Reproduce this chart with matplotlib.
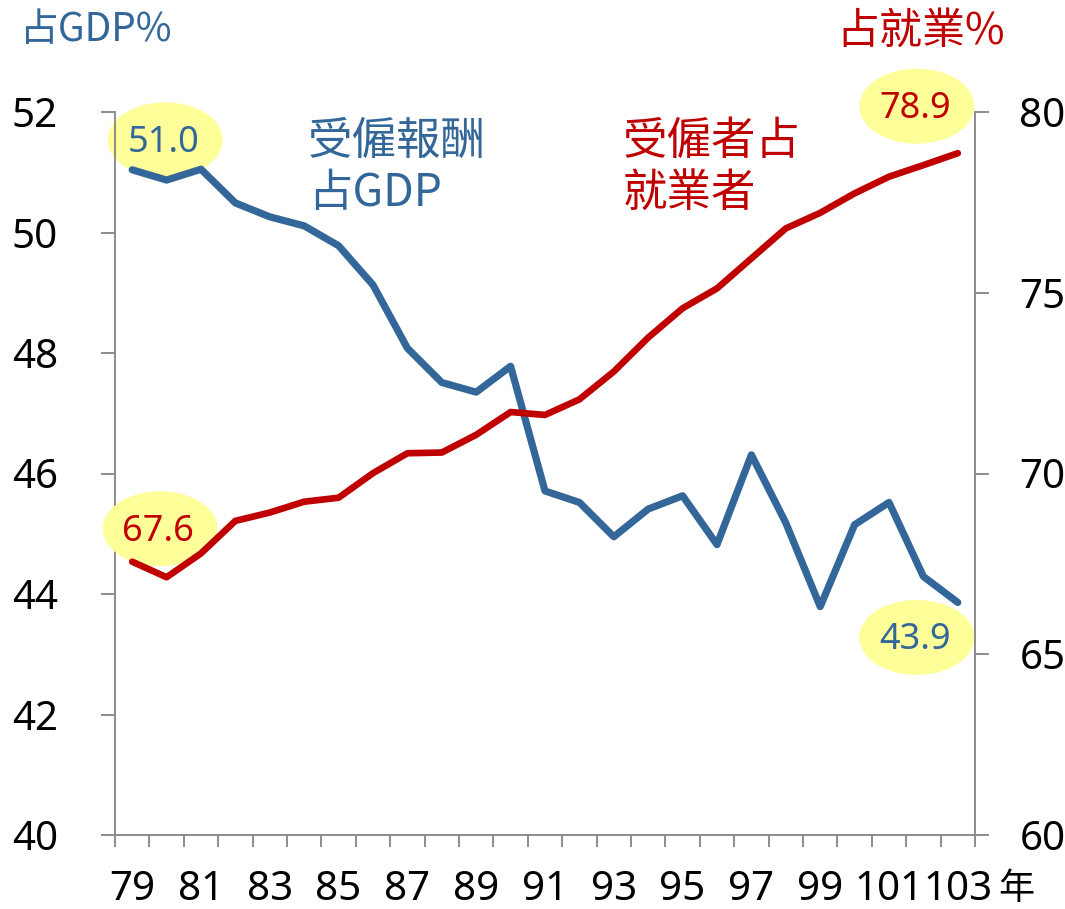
import numpy as np
import matplotlib.pyplot as plt
from matplotlib.patches import Ellipse
from matplotlib.transforms import ScaledTranslation

# 民國年
years = list(range(79, 104))
year_labels = [str(y) if (y - 79) % 2 == 0 else "" for y in years]

# 受僱報酬占GDP (%)
gdp_share = [51.04, 50.87, 51.05, 50.49, 50.26, 50.11, 49.78, 49.13, 48.08, 47.51,
             47.35, 47.78, 45.71, 45.52, 44.95, 45.41, 45.63, 44.82, 46.31, 45.18,
             43.79, 45.15, 45.52, 44.29, 43.86]

# 受僱者占就業者 (%)
emp_share = [67.56, 67.13, 67.79, 68.69, 68.92, 69.22, 69.33, 70.01, 70.56, 70.58,
             71.07, 71.70, 71.62, 72.05, 72.82, 73.76, 74.57, 75.12, 75.95, 76.78,
             77.21, 77.75, 78.21, 78.53, 78.86]

BLUE = "#336699"
RED = "#C00000"
GRAY = "#8c8c8c"
YELLOW = "#FFFF99"
NUM_FONT = ["Noto Sans", "DejaVu Sans"]
CJK_FONT = ["Noto Sans CJK TC", "DejaVu Sans"]

W, H = 1065, 909
fig = plt.figure(figsize=(W / 100, H / 100), dpi=100)
ax = fig.add_axes([115 / W, 1 - 835 / H, 860 / W, 723 / H])
ax2 = ax.twinx()

x = np.arange(len(years))
ax.plot(x, gdp_share, color=BLUE, lw=5.2, solid_capstyle="round", zorder=3)
ax2.plot(x, emp_share, color=RED, lw=4.8, solid_capstyle="round", zorder=3)

ax.set_xlim(-0.5, len(years) - 0.5)
ax.set_ylim(40, 52)
ax2.set_ylim(60, 80)
ax.set_yticks(np.arange(40, 53, 2))
ax2.set_yticks(np.arange(60, 81, 5))

# x 軸: 刻度在類別之間, 標籤每兩年一個
ax.set_xticks(np.arange(-0.5, len(years), 1.0))
ax.set_xticklabels([])
ax.set_xticks(x, minor=True)
ax.set_xticklabels(year_labels, minor=True, fontfamily=NUM_FONT, fontsize=29)
ax.tick_params(axis="x", which="major", direction="out", length=8.5, width=1.4, color=GRAY)
ax.tick_params(axis="x", which="minor", length=0, pad=25)

ax.tick_params(axis="y", direction="out", length=10, width=1.4, color=GRAY, pad=31,
               labelsize=29)
ax2.tick_params(axis="y", direction="out", length=10, width=1.4, color=GRAY, pad=22,
                labelsize=29)
for lab in ax.get_yticklabels() + ax2.get_yticklabels():
    lab.set_fontfamily(NUM_FONT)

for a in (ax, ax2):
    a.spines["top"].set_visible(False)
    for s in ("left", "right", "bottom"):
        a.spines[s].set_color(GRAY)
        a.spines[s].set_linewidth(1.4)
ax.spines["right"].set_visible(False)
ax2.spines["left"].set_visible(False)
ax2.spines["bottom"].set_visible(False)


def bubble(a, i, val, dx, dy, color):
    # 黃色橢圓 + 數值, 以像素位移放在資料點旁
    tr = fig.dpi_scale_trans + ScaledTranslation(x[i], val, a.transData)
    a.add_patch(Ellipse((dx / 100, dy / 100), 1.15, 0.75, transform=tr,
                        facecolor=YELLOW, edgecolor="none", zorder=2, clip_on=False))
    a.annotate(f"{val:.1f}", (x[i], val), xytext=(dx - 2, dy - 3),
               textcoords="offset pixels", ha="center", va="center",
               fontsize=26, color=color, fontfamily=NUM_FONT, zorder=4,
               annotation_clip=False)


bubble(ax, 0, gdp_share[0], 33, 30, BLUE)
bubble(ax, -1, gdp_share[-1], -41, -35, BLUE)
bubble(ax2, 0, emp_share[0], 28, 33, RED)
bubble(ax2, -1, emp_share[-1], -41, 47, RED)

ax.text((308 - 115) / 860, (835 - 118) / 723, "受僱報酬\n占GDP", transform=ax.transAxes,
        ha="left", va="top", fontsize=32, color=BLUE, fontfamily=CJK_FONT,
        linespacing=1.18)
ax.text((623 - 115) / 860, (835 - 118) / 723, "受僱者占\n就業者", transform=ax.transAxes,
        ha="left", va="top", fontsize=32, color=RED, fontfamily=CJK_FONT,
        linespacing=1.18)

fig.text(20 / W, 1 - 10 / H, "占GDP%", ha="left", va="top", fontsize=28,
         color=BLUE, fontfamily=CJK_FONT)
fig.text(836 / W, 1 - 10 / H, "占就業%", ha="left", va="top", fontsize=31,
         color=RED, fontfamily=CJK_FONT)
fig.text(998 / W, 1 - 889 / H, "年", ha="left", va="center", fontsize=26,
         color="black", fontfamily=CJK_FONT)

fig.savefig("out.png", dpi=100)
